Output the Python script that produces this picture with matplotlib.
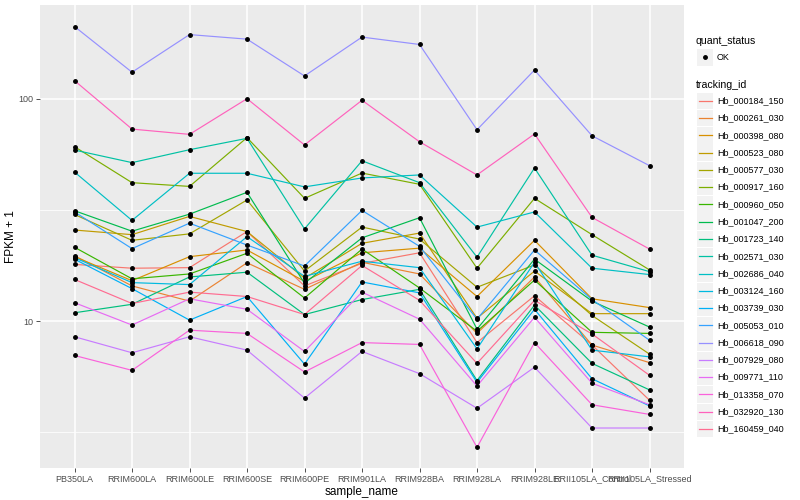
import matplotlib
matplotlib.use("Agg")
import matplotlib.pyplot as plt
from matplotlib.patches import Rectangle
from matplotlib.ticker import FixedLocator, NullFormatter

plt.rcParams['font.family'] = ['Liberation Sans', 'DejaVu Sans']

samples = ["PB350LA", "RRIM600LA", "RRIM600LE", "RRIM600SE", "RRIM600PE", "RRIM901LA",
           "RRIM928BA", "RRIM928LA", "RRIM928LE", "RRII105LA_Control", "RRII105LA_Stressed"]

tracking_ids = ["Hb_000184_150", "Hb_000261_030", "Hb_000398_080", "Hb_000523_080",
                "Hb_000577_030", "Hb_000917_160", "Hb_000960_050", "Hb_001047_200",
                "Hb_001723_140", "Hb_002571_030", "Hb_002686_040", "Hb_003124_160",
                "Hb_003739_030", "Hb_005053_010", "Hb_006618_090", "Hb_007929_080",
                "Hb_009771_110", "Hb_013358_070", "Hb_032920_130", "Hb_160459_040"]

# FPKM + 1 values per gene, in sample order
Hb_000184_150 = [18.0, 17.3, 17.4, 25.3, 14.4, 18.2, 20.3, 8.0, 13.0, 7.8, 4.4]
Hb_000261_030 = [19.7, 14.4, 12.3, 18.3, 13.9, 18.4, 16.3, 8.8, 15.8, 7.8, 6.5]
Hb_000398_080 = [19.5, 15.2, 19.5, 20.9, 15.1, 20.3, 21.3, 12.9, 23.1, 12.6, 11.5]
Hb_000523_080 = [25.7, 24.5, 29.6, 25.3, 15.6, 22.4, 24.9, 10.3, 16.8, 10.8, 10.8]
Hb_000577_030 = [30.2, 23.1, 24.7, 35.1, 16.8, 26.5, 23.4, 14.2, 17.9, 10.6, 7.1]
Hb_000917_160 = [61.0, 42.0, 40.4, 67.0, 35.7, 46.4, 41.3, 17.3, 35.7, 24.5, 17.0]
Hb_000960_050 = [21.5, 15.5, 16.3, 20.2, 12.7, 21.1, 14.1, 9.0, 15.3, 8.9, 8.8]
Hb_001047_200 = [31.4, 25.4, 30.3, 38.0, 14.8, 23.7, 29.2, 9.2, 19.0, 12.3, 9.4]
Hb_001723_140 = [10.9, 11.9, 15.8, 16.6, 10.7, 12.5, 13.9, 5.4, 11.8, 6.45, 4.9]
Hb_002571_030 = [58.9, 51.7, 59.1, 66.5, 26.0, 52.7, 42.0, 19.4, 48.9, 19.8, 16.7]
Hb_002686_040 = [46.9, 28.4, 46.3, 46.3, 40.2, 44.1, 45.5, 26.5, 31.0, 17.3, 16.2]
Hb_003124_160 = [19.3, 14.9, 14.6, 24.0, 15.9, 18.6, 17.4, 7.5, 18.4, 7.4, 6.9]
Hb_003739_030 = [19.0, 14.0, 10.1, 12.9, 6.4, 15.0, 13.4, 5.3, 11.3, 5.5, 4.15]
Hb_005053_010 = [31.0, 21.2, 27.6, 22.0, 17.7, 31.5, 21.7, 10.2, 20.9, 12.5, 8.2]
Hb_006618_090 = [212, 132, 195, 186, 127, 190, 176, 72.7, 135, 68.3, 50.1]
Hb_007929_080 = [8.5, 7.2, 8.5, 7.4, 4.5, 7.3, 5.8, 4.05, 6.2, 3.3, 3.3]
Hb_009771_110 = [12.1, 9.6, 12.6, 11.3, 7.3, 13.5, 10.2, 5.1, 10.4, 5.25, 4.2]
Hb_013358_070 = [7.0, 6.0, 9.1, 8.8, 5.9, 8.0, 7.85, 2.7, 8.0, 4.2, 3.8]
Hb_032920_130 = [121, 73.2, 69.3, 100.3, 62.1, 98.7, 64.2, 45.5, 69.6, 29.3, 21.1]
Hb_160459_040 = [15.4, 12.0, 13.5, 12.9, 10.7, 17.8, 12.4, 6.45, 12.4, 8.75, 5.7]

series = [Hb_000184_150, Hb_000261_030, Hb_000398_080, Hb_000523_080, Hb_000577_030,
          Hb_000917_160, Hb_000960_050, Hb_001047_200, Hb_001723_140, Hb_002571_030,
          Hb_002686_040, Hb_003124_160, Hb_003739_030, Hb_005053_010, Hb_006618_090,
          Hb_007929_080, Hb_009771_110, Hb_013358_070, Hb_032920_130, Hb_160459_040]

colors = ["#F8766D", "#EA8331", "#D89000", "#C09B00", "#A3A500", "#7CAE00", "#39B600",
          "#00BB4E", "#00BF7D", "#00C1A3", "#00BFC4", "#00BAE0", "#00B0F6", "#35A2FF",
          "#9590FF", "#C77CFF", "#E76BF3", "#FA62DB", "#FF62BC", "#FF6C91"]

W, H = 800, 500
fig = plt.figure(figsize=(W / 100, H / 100), dpi=100)
fig.patch.set_facecolor("white")

# panel in pixel coords: left 40, right 684, top 5, bottom 468
ax = fig.add_axes([40 / W, 1 - 468 / H, (684 - 40) / W, (468 - 5) / H])
ax.set_facecolor("#EBEBEB")
for s in ax.spines.values():
    s.set_visible(False)

xs = list(range(len(samples)))
for vals, c in zip(series, colors):
    ax.plot(xs, vals, color=c, lw=0.85, zorder=3, solid_capstyle="butt")
    ax.plot(xs, vals, linestyle="none", marker="o", markersize=2.5, color="black", zorder=4)

ax.set_yscale("log")
ax.set_ylim(2.18, 265)
ax.set_xlim(-0.6, len(samples) - 0.4)
ax.yaxis.set_major_locator(FixedLocator([10, 100]))
ax.yaxis.set_minor_locator(FixedLocator([10 ** 0.5, 10 ** 1.5, 10 ** 2.5]))
ax.yaxis.set_minor_formatter(NullFormatter())
ax.set_yticklabels(["10", "100"])
ax.set_xticks(xs)
ax.set_xticklabels(samples)

ax.grid(True, which="major", color="white", lw=1.1, zorder=0)
ax.grid(True, which="minor", axis="y", color="white", lw=0.55, zorder=0)
ax.set_axisbelow(True)
ax.tick_params(axis="both", which="major", length=2.7, width=0.6, color="#333333",
               labelsize=6.5, labelcolor="#4D4D4D", pad=2)
ax.tick_params(axis="y", which="minor", length=0)

ax.set_xlabel("sample_name", fontsize=8.5, labelpad=2)
ax.set_ylabel("FPKM + 1", fontsize=8.5, labelpad=1)

# legend area in pixel coords
lg = fig.add_axes([0, 0, 1, 1], zorder=5)
lg.set_xlim(0, W)
lg.set_ylim(H, 0)
lg.axis("off")
lg.patch.set_alpha(0)

lg.text(696, 41, "quant_status", fontsize=7.6, va="center", ha="left")
lg.add_patch(Rectangle((697, 49), 16, 16.5, facecolor="#F2F2F2", edgecolor="none"))
lg.plot([705], [57.3], marker="o", markersize=2.5, color="black")
lg.text(717, 57.3, "OK", fontsize=6.5, va="center", ha="left")

lg.text(696, 84.5, "tracking_id", fontsize=7.6, va="center", ha="left")
y0, dy = 100.7, 17.28
for i, (name, c) in enumerate(zip(tracking_ids, colors)):
    yc = y0 + i * dy
    lg.add_patch(Rectangle((697, yc - 8.2), 16, 16.5, facecolor="#F2F2F2", edgecolor="none"))
    lg.plot([698.5, 711.5], [yc, yc], color=c, lw=0.9)
    lg.text(717, yc, name, fontsize=6.5, va="center", ha="left")

fig.savefig("out.png", dpi=100)
